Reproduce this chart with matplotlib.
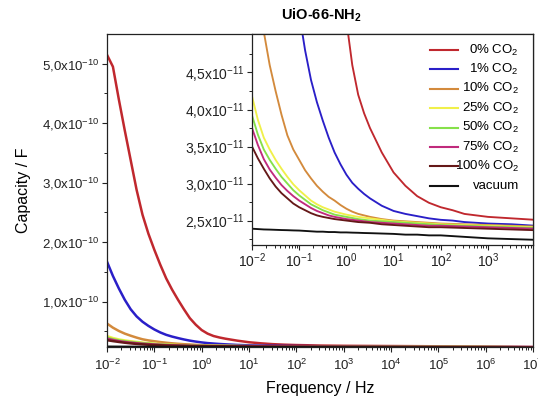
import numpy as np
import matplotlib
matplotlib.use("Agg")
import matplotlib.pyplot as plt
from matplotlib.lines import Line2D
from matplotlib.ticker import FixedLocator, FixedFormatter, LogLocator, LogFormatterMathtext, NullFormatter

plt.rcParams['font.family'] = ['Liberation Sans', 'DejaVu Sans']
plt.rcParams['mathtext.fontset'] = 'custom'
plt.rcParams['mathtext.rm'] = 'Liberation Sans'
plt.rcParams['mathtext.it'] = 'Liberation Sans:italic'
plt.rcParams['mathtext.bf'] = 'Liberation Sans:bold'

# ---- data: capacity (in units of 1e-11 F) vs log10(frequency / Hz) ----
log_freq = [-2, -1.875, -1.75, -1.625, -1.5, -1.375, -1.25, -1.125, -1, -0.875,
            -0.75, -0.625, -0.5, -0.375, -0.25, -0.125, 0, 0.125, 0.25, 0.375,
            0.5, 0.75, 1, 1.25, 1.5, 1.75, 2, 2.25, 2.5, 3, 3.5, 4, 5, 6, 7]

cap_0 = [51.5, 49.5, 44.0, 38.8, 33.8, 28.8, 24.6, 21.4, 18.7, 16.2,
         13.9, 12.0, 10.3, 8.7, 7.2, 6.1, 5.2, 4.6, 4.2, 3.95,
         3.75, 3.42, 3.15, 2.97, 2.83, 2.74, 2.68, 2.64, 2.59, 2.55, 2.53, 2.51, 2.47, 2.42, 2.36]
cap_1 = [16.7, 14.3, 12.2, 10.3, 8.7, 7.5, 6.6, 5.9, 5.3, 4.8,
         4.4, 4.1, 3.85, 3.62, 3.42, 3.26, 3.12, 3.01, 2.93, 2.86,
         2.80, 2.70, 2.63, 2.59, 2.56, 2.53, 2.51, 2.50, 2.48, 2.46, 2.45, 2.43, 2.40, 2.36, 2.32]
cap_10 = [6.3, 5.6, 5.05, 4.6, 4.25, 3.93, 3.65, 3.46, 3.32, 3.18,
          3.07, 2.97, 2.89, 2.82, 2.77, 2.71, 2.66, 2.62, 2.59, 2.57,
          2.55, 2.52, 2.50, 2.49, 2.48, 2.47, 2.46, 2.455, 2.45, 2.44, 2.43, 2.42, 2.39, 2.35, 2.31]
cap_25 = [4.18, 3.86, 3.62, 3.46, 3.32, 3.20, 3.09, 2.99, 2.91, 2.84,
          2.77, 2.72, 2.68, 2.65, 2.62, 2.60, 2.58, 2.565, 2.55, 2.54,
          2.53, 2.51, 2.49, 2.48, 2.47, 2.46, 2.45, 2.445, 2.44, 2.43, 2.42, 2.41, 2.38, 2.34, 2.30]
cap_50 = [3.92, 3.66, 3.46, 3.32, 3.20, 3.09, 3.00, 2.91, 2.84, 2.78,
          2.72, 2.68, 2.64, 2.61, 2.58, 2.565, 2.55, 2.535, 2.52, 2.51,
          2.50, 2.49, 2.48, 2.47, 2.46, 2.45, 2.44, 2.435, 2.43, 2.42, 2.41, 2.40, 2.37, 2.33, 2.29]
cap_75 = [3.75, 3.52, 3.33, 3.19, 3.08, 2.98, 2.90, 2.83, 2.77, 2.72,
          2.67, 2.63, 2.60, 2.57, 2.55, 2.535, 2.52, 2.51, 2.50, 2.49,
          2.48, 2.47, 2.46, 2.45, 2.44, 2.43, 2.43, 2.425, 2.42, 2.41, 2.40, 2.39, 2.36, 2.32, 2.28]
cap_100 = [3.50, 3.34, 3.20, 3.07, 2.96, 2.87, 2.80, 2.73, 2.68, 2.64,
           2.60, 2.57, 2.55, 2.535, 2.52, 2.51, 2.50, 2.49, 2.48, 2.475,
           2.47, 2.45, 2.44, 2.43, 2.42, 2.41, 2.41, 2.405, 2.40, 2.39, 2.38, 2.37, 2.34, 2.30, 2.27]
cap_vac = [2.39, 2.385, 2.38, 2.378, 2.375, 2.372, 2.37, 2.367, 2.365, 2.36,
           2.355, 2.35, 2.35, 2.345, 2.345, 2.34, 2.34, 2.337, 2.335, 2.332,
           2.33, 2.325, 2.32, 2.31, 2.31, 2.30, 2.30, 2.29, 2.28, 2.26, 2.25, 2.24, 2.22, 2.20, 2.18]

labels = ['0% CO$_2$', '1% CO$_2$', '10% CO$_2$', '25% CO$_2$',
          '50% CO$_2$', '75% CO$_2$', '100% CO$_2$', 'vacuum']
colors = ['#c0282e', '#2a1fc8', '#d38a3c', '#f0f04a',
          '#86e04a', '#c02a7c', '#651818', '#111111']
series = [cap_0, cap_1, cap_10, cap_25, cap_50, cap_75, cap_100, cap_vac]

main_yticks = [1e-10, 2e-10, 3e-10, 4e-10, 5e-10]
main_yticklabels = ['1,0x10$^{-10}$', '2,0x10$^{-10}$', '3,0x10$^{-10}$',
                    '4,0x10$^{-10}$', '5,0x10$^{-10}$']
inset_yticks = [2.5e-11, 3.0e-11, 3.5e-11, 4.0e-11, 4.5e-11]
inset_yticklabels = ['2,5x10$^{-11}$', '3,0x10$^{-11}$', '3,5x10$^{-11}$',
                     '4,0x10$^{-11}$', '4,5x10$^{-11}$']

freq = 10.0 ** np.array(log_freq)

W, H = 538, 399
fig = plt.figure(figsize=(W / 100, H / 100), dpi=100)


def frac(x0, y0, x1, y1):
    return [x0 / W, 1 - y1 / H, (x1 - x0) / W, (y1 - y0) / H]


def style_axis(ax, fs):
    for sp in ax.spines.values():
        sp.set_linewidth(0.9)
        sp.set_color('#222222')
    ax.tick_params(which='major', direction='out', length=3.5, width=0.8,
                   labelsize=fs, pad=2, colors='#222222')
    ax.tick_params(which='minor', direction='out', length=2, width=0.7,
                   colors='#222222')
    ax.tick_params(top=False, right=False, which='both')


def log_x(ax):
    ax.set_xscale('log')
    ax.xaxis.set_major_locator(LogLocator(base=10, numticks=20))
    ax.xaxis.set_minor_locator(LogLocator(base=10, subs=np.arange(2, 10), numticks=20))
    ax.xaxis.set_major_formatter(LogFormatterMathtext())
    ax.xaxis.set_minor_formatter(NullFormatter())


# main axes
ax = fig.add_axes(frac(107, 34, 533, 347))
for vals, c in zip(series, colors):
    ax.plot(freq, np.array(vals) * 1e-11, color=c, lw=1.8)
log_x(ax)
ax.set_xlim(1e-2, 1e7)
ax.set_ylim(2.35e-11, 5.5e-10)
ax.yaxis.set_major_locator(FixedLocator(main_yticks))
ax.yaxis.set_major_formatter(FixedFormatter(main_yticklabels))
ax.yaxis.set_minor_locator(FixedLocator(np.array(main_yticks) - 0.5e-10))
style_axis(ax, 9.5)
ax.tick_params(axis='x', pad=4)
ax.set_xlabel('Frequency / Hz', fontsize=11.5, labelpad=6)
ax.set_ylabel('Capacity / F', fontsize=11.5, labelpad=8)

# inset axes
ins = fig.add_axes(frac(252, 34, 533, 245))
ins.set_facecolor('white')
for vals, c in zip(series, colors):
    ins.plot(freq, np.array(vals) * 1e-11, color=c, lw=1.35)
log_x(ins)
ins.set_xlim(1e-2, 9e3)
ins.set_ylim(2.17e-11, 5.02e-11)
ins.yaxis.set_major_locator(FixedLocator(inset_yticks))
ins.yaxis.set_major_formatter(FixedFormatter(inset_yticklabels))
ins.yaxis.set_minor_locator(FixedLocator(np.arange(2.25e-11, 5.0e-11, 0.5e-11)))
style_axis(ins, 10)
ins.tick_params(axis='x', pad=1)

# legend with right-aligned labels
row_h = 19.4 / 211
for i, (c, lab) in enumerate(zip(colors, labels)):
    yy = (245 - 50) / 211 - i * row_h
    ins.add_line(Line2D([0.633, 0.733], [yy, yy], color=c, lw=1.5,
                        transform=ins.transAxes))
    ins.text(0.950, yy, lab, transform=ins.transAxes, ha='right', va='center',
             fontsize=9.5)

fig.text(321 / W, 1 - 15 / H, r'UiO-66-NH$_\mathbf{2}$', fontsize=10.5,
         fontweight='bold', ha='center', va='center')

fig.savefig('out.png', dpi=100)
